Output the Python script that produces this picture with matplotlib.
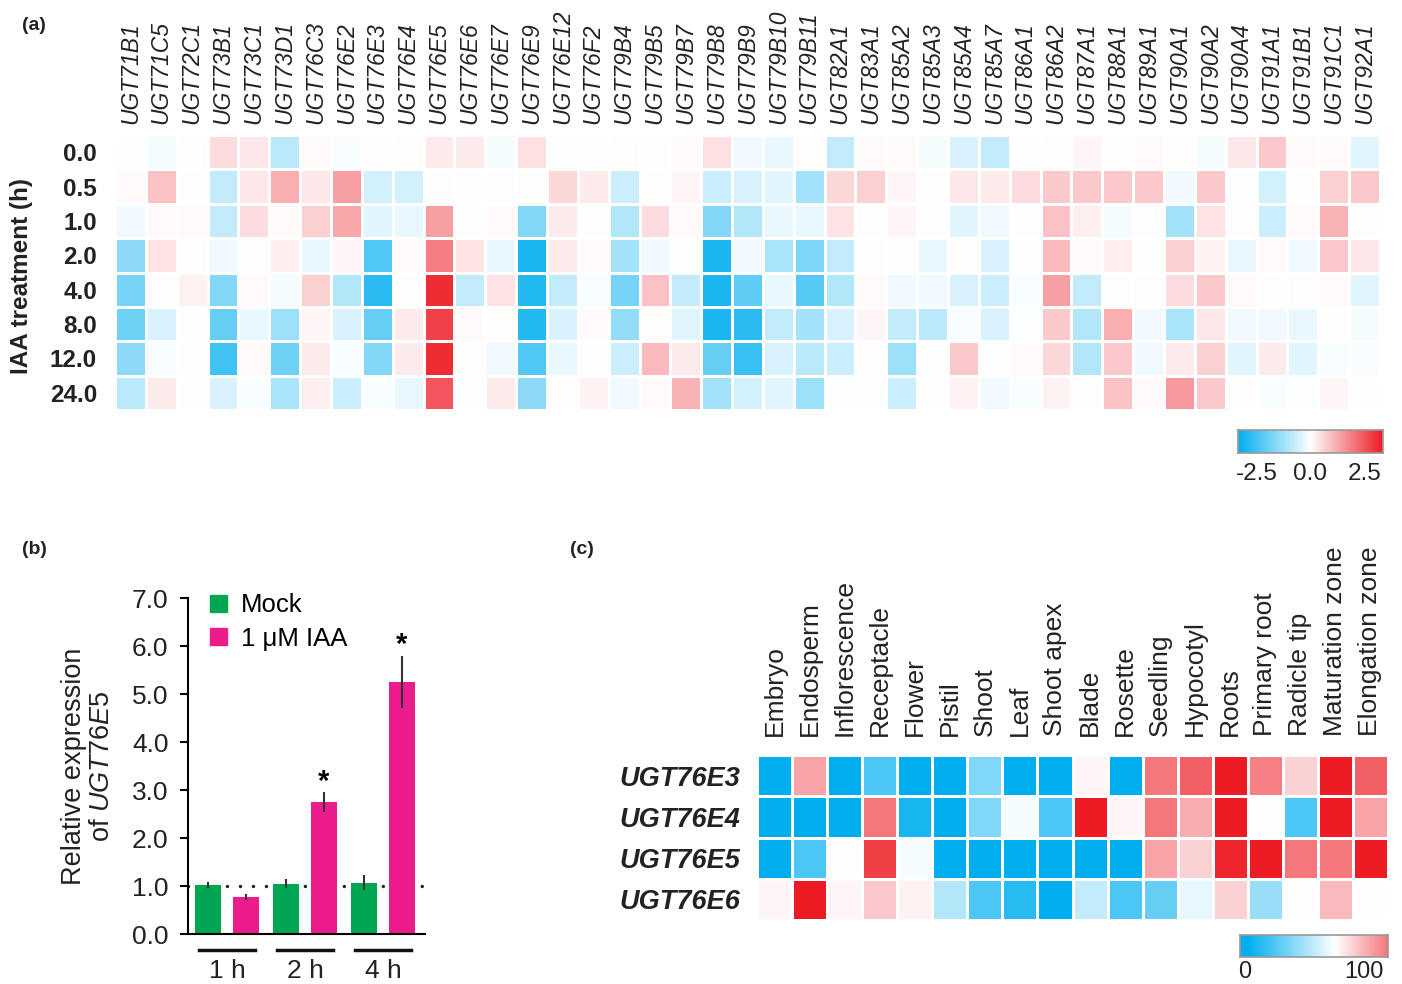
import numpy as np
import matplotlib.pyplot as plt
import matplotlib.transforms as mtransforms
from matplotlib.colors import LinearSegmentedColormap
from matplotlib.patches import Patch

plt.rcParams['font.family'] = ['Liberation Sans', 'DejaVu Sans']
plt.rcParams['mathtext.fontset'] = 'custom'
plt.rcParams['mathtext.rm'] = 'Liberation Sans'
plt.rcParams['mathtext.it'] = 'Liberation Sans:italic'

# ---- panel (a) data: log2 fold change, one list per gene (values for each time point)
times_a = ["0.0", "0.5", "1.0", "2.0", "4.0", "8.0", "12.0", "24.0"]
genes_a = ["UGT71B1", "UGT71C5", "UGT72C1", "UGT73B1", "UGT73C1", "UGT73D1", "UGT76C3",
           "UGT76E2", "UGT76E3", "UGT76E4", "UGT76E5", "UGT76E6", "UGT76E7", "UGT76E9",
           "UGT76E12", "UGT76F2", "UGT79B4", "UGT79B5", "UGT79B7", "UGT79B8", "UGT79B9",
           "UGT79B10", "UGT79B11", "UGT82A1", "UGT83A1", "UGT85A2", "UGT85A3", "UGT85A4",
           "UGT85A7", "UGT86A1", "UGT86A2", "UGT87A1", "UGT88A1", "UGT89A1", "UGT90A1",
           "UGT90A2", "UGT90A4", "UGT91A1", "UGT91B1", "UGT91C1", "UGT92A1"]
expr_a_by_gene = [
    [0.0, 0.1, -0.2, -1.5, -1.8, -1.9, -1.5, -0.9],    # UGT71B1
    [-0.15, 0.9, 0.1, 0.4, 0.0, -0.5, -0.1, 0.3],      # UGT71C5
    [0.05, 0.0, 0.1, 0.05, 0.2, 0.0, 0.0, 0.0],        # UGT72C1
    [0.5, -0.8, -0.8, -0.2, -1.6, -2.0, -2.5, -0.5],   # UGT73B1
    [0.35, 0.35, 0.5, 0.0, 0.1, -0.3, 0.1, -0.1],      # UGT73C1
    [-0.9, 1.2, 0.1, 0.25, -0.15, -1.3, -1.9, -1.1],   # UGT73D1
    [0.1, 0.35, 0.7, -0.3, 0.7, 0.15, 0.3, 0.25],      # UGT76C3
    [-0.1, 1.4, 1.3, 0.15, -1.0, -0.5, -0.1, -0.7],    # UGT76E2
    [0.0, -0.6, -0.4, -2.3, -2.8, -2.0, -1.6, -0.1],   # UGT76E3
    [0.05, -0.6, -0.3, 0.1, 0.05, 0.3, 0.3, -0.3],     # UGT76E4
    [0.3, 0.0, 1.4, 1.9, 3.1, 2.8, 3.1, 2.5],          # UGT76E5
    [0.3, 0.0, 0.0, 0.4, -0.8, 0.1, 0.05, 0.0],        # UGT76E6
    [-0.15, -0.05, 0.1, -0.3, 0.4, 0.05, -0.2, 0.3],   # UGT76E7
    [0.45, 0.05, -1.6, -3.0, -2.9, -2.9, -2.3, -1.5],  # UGT76E9
    [-0.05, 0.6, 0.3, 0.3, -0.8, -0.5, -0.3, 0.05],    # UGT76E12
    [0.0, 0.3, -0.05, 0.1, -0.1, 0.1, 0.0, 0.2],       # UGT76F2
    [0.05, -0.7, -1.0, -1.2, -1.8, -1.4, -0.7, -0.2],  # UGT79B4
    [0.0, 0.05, 0.5, -0.2, 0.9, 0.05, 1.0, 0.1],       # UGT79B5
    [0.1, 0.15, 0.1, 0.0, -0.8, -0.4, 0.3, 1.1],       # UGT79B7
    [0.45, -0.7, -1.6, -3.0, -3.0, -3.0, -2.0, -1.2],  # UGT79B8
    [-0.2, -0.5, -1.0, -0.2, -2.1, -2.8, -2.6, -0.6],  # UGT79B9
    [-0.3, -0.4, -0.3, -1.1, -0.3, -0.8, -0.5, -0.4],  # UGT79B10
    [0.05, -1.2, -0.3, -1.7, -2.2, -1.2, -0.9, -1.3],  # UGT79B11
    [-0.8, 0.6, 0.4, -0.8, -1.0, -0.5, -0.7, -0.05],   # UGT82A1
    [0.1, 0.7, 0.05, 0.0, 0.1, 0.15, 0.05, -0.05],     # UGT83A1
    [0.1, 0.15, 0.15, 0.05, -0.2, -0.8, -1.3, -0.7],   # UGT85A2
    [-0.15, 0.0, 0.0, -0.3, -0.2, -0.9, 0.0, 0.0],     # UGT85A3
    [-0.5, 0.35, -0.4, 0.05, -0.5, -0.1, 0.8, 0.2],    # UGT85A4
    [-0.8, 0.3, -0.2, -0.5, -0.7, -0.5, -0.05, -0.2],  # UGT85A7
    [0.0, 0.5, 0.0, 0.0, -0.1, -0.05, 0.1, -0.1],      # UGT86A1
    [0.05, 0.8, 0.9, 1.0, 1.4, 0.8, 0.6, 0.2],         # UGT86A2
    [0.15, 0.8, 0.25, 0.1, -0.8, -1.0, -1.0, 0.0],     # UGT87A1
    [0.05, 0.8, -0.15, 0.25, 0.0, 1.2, 0.8, 0.9],      # UGT88A1
    [0.1, 0.8, 0.0, 0.0, 0.05, -0.2, -0.2, 0.1],       # UGT89A1
    [0.05, -0.2, -1.2, 0.7, 0.5, -1.1, 0.3, 1.5],      # UGT90A1
    [-0.15, 0.8, 0.4, 0.2, 0.8, 0.35, 0.7, 0.8],       # UGT90A2
    [0.35, -0.05, 0.0, -0.3, 0.1, -0.2, -0.4, 0.05],   # UGT90A4
    [0.8, -0.6, -0.7, 0.1, 0.0, -0.2, 0.3, -0.1],      # UGT91A1
    [0.1, 0.0, 0.1, -0.2, 0.05, -0.3, -0.4, -0.05],    # UGT91B1
    [0.1, 0.7, 1.1, 0.8, 0.1, 0.0, -0.1, 0.15],        # UGT91C1
    [-0.4, 0.8, 0.0, 0.35, -0.4, -0.15, -0.1, 0.0],    # UGT92A1
]

# ---- panel (b) data
time_labels_b = ["1 h", "2 h", "4 h"]
mock_mean = [1.02, 1.05, 1.07]
mock_err = [0.06, 0.10, 0.15]
iaa_mean = [0.77, 2.75, 5.25]
iaa_err = [0.06, 0.20, 0.55]
iaa_sig = [False, True, True]

# ---- panel (c) data: relative expression (0-100)
tissues_c = ["Embryo", "Endosperm", "Inflorescence", "Receptacle", "Flower", "Pistil", "Shoot",
             "Leaf", "Shoot apex", "Blade", "Rosette", "Seedling", "Hypocotyl", "Roots",
             "Primary root", "Radicle tip", "Maturation zone", "Elongation zone"]
genes_c = ["UGT76E3", "UGT76E4", "UGT76E5", "UGT76E6"]
expr_c = [
    [0, 70, 0, 15, 0, 0, 25, 0, 0, 52, 0, 80, 85, 100, 78, 60, 100, 85],
    [0, 0, 0, 80, 5, 0, 25, 48, 15, 100, 52, 80, 68, 100, 50, 15, 100, 70],
    [0, 15, 50, 92, 48, 0, 0, 0, 0, 0, 0, 70, 60, 98, 100, 80, 80, 100],
    [52, 100, 52, 62, 53, 35, 15, 8, 0, 38, 15, 20, 45, 60, 30, 50, 65, 50],
]

blue, red = "#00AEEF", "#ED1C24"
cmap = LinearSegmentedColormap.from_list("bwr_ugt", [blue, "#FFFFFF", red])
txt = "#222222"

fig = plt.figure(figsize=(14.02, 9.84), dpi=100)
W, H = 1402, 984


def px_axes(x0, y0, x1, y1):
    # axes placed by pixel box (top-left origin)
    return fig.add_axes([x0 / W, 1 - y1 / H, (x1 - x0) / W, (y1 - y0) / H])


# ================= panel (a)
data_a = np.array(expr_a_by_gene).T
lim_a = 3.35
ax = px_axes(115, 135, 1380, 410)
ax.pcolormesh(data_a, cmap=cmap, vmin=-lim_a, vmax=lim_a, edgecolors="white", linewidth=0.8)
ax.set_ylim(len(times_a), 0)
ax.set_xlim(0, len(genes_a))
ax.xaxis.tick_top()
ax.set_xticks(np.arange(len(genes_a)) + 0.5)
ax.set_xticklabels(genes_a, rotation=90, fontsize=16.5, fontstyle="italic", color=txt)
ax.set_yticks(np.arange(len(times_a)) + 0.5)
ax.set_yticklabels(times_a, fontsize=17.5, fontweight="bold", color=txt)
ax.tick_params(axis="x", length=0, pad=8)
ax.tick_params(axis="y", length=0, pad=13)
for s in ax.spines.values():
    s.set_visible(False)
fig.text(22 / W, 1 - 276 / H, "IAA treatment (h)", rotation=90, ha="center", va="center",
         fontsize=17.5, fontweight="bold", color=txt)

cax = px_axes(1238, 430, 1383, 453)
grad = np.linspace(-lim_a, lim_a, 256)[None, :]
cax.imshow(grad, aspect="auto", cmap=cmap, vmin=-lim_a, vmax=lim_a, extent=(-lim_a, lim_a, 0, 1))
cax.set_yticks([])
cax.set_xticks([-2.5, 0, 2.5])
cax.set_xticklabels(["-2.5", "0.0", "2.5"], fontsize=17.5, color=txt)
cax.tick_params(length=0, pad=7)
for s in cax.spines.values():
    s.set_color("#999999")
    s.set_linewidth(1.2)

# ================= panel (b)
axb = px_axes(188, 598, 425, 934)
x = np.arange(len(time_labels_b))
off, bw = 0.245, 0.33
# dotted reference line at 1.0 (dots every ~13 px)
axb.axhline(1.0, color=txt, lw=2.5, ls=(0, (0.01, 3.73)), dash_capstyle="round", zorder=1)
axb.bar(x - off, mock_mean, bw, color="#00A651", zorder=2)
axb.bar(x + off, iaa_mean, bw, color="#EC1C8C", zorder=2)
axb.errorbar(x - off, mock_mean, yerr=mock_err, fmt="none", ecolor="#333333", elinewidth=1.5, zorder=3)
axb.errorbar(x + off, iaa_mean, yerr=iaa_err, fmt="none", ecolor="#333333", elinewidth=1.5, zorder=3)
for xi, m, e, s in zip(x, iaa_mean, iaa_err, iaa_sig):
    if s:
        axb.text(xi + off, m + e - 0.07, "*", ha="center", va="bottom", fontsize=21, fontweight="bold")
axb.set_xlim(-0.5, 2.54)
axb.set_ylim(0, 7)
yt = np.arange(0, 7.1, 1.0)
axb.set_yticks(yt)
axb.set_yticklabels([f"{v:.1f}" for v in yt], fontsize=19, color=txt)
axb.set_xticks([])
axb.tick_params(axis="y", length=6, width=1.5, pad=8)
axb.spines["top"].set_visible(False)
axb.spines["right"].set_visible(False)
axb.spines["left"].set_linewidth(1.5)
axb.spines["bottom"].set_linewidth(1.5)
axb.set_ylabel("Relative expression\nof $\\it{UGT76E5}$", fontsize=19.5, color=txt, labelpad=12,
               linespacing=1.1)
trans = mtransforms.blended_transform_factory(axb.transData, axb.transAxes)
for xi, lab in zip(x, time_labels_b):
    axb.plot([xi - 0.36, xi + 0.36], [-0.048, -0.048], color="#111111", lw=2.5,
             transform=trans, clip_on=False)
    axb.text(xi, -0.11, lab, transform=trans, ha="center", va="center", fontsize=19, color=txt)
axb.legend(handles=[Patch(color="#00A651", label="Mock"), Patch(color="#EC1C8C", label="1 \u03bcM IAA")],
           loc="upper left", bbox_to_anchor=(0.05, 1.045), frameon=False, fontsize=18.5,
           handlelength=0.65, handleheight=0.65, handletextpad=0.55, labelspacing=0.38, borderaxespad=0)

# ================= panel (c)
axc = px_axes(757, 755, 1388, 920)
axc.pcolormesh(np.array(expr_c), cmap=cmap, vmin=0, vmax=100, edgecolors="white", linewidth=0.8)
axc.set_ylim(len(genes_c), 0)
axc.set_xlim(0, len(tissues_c))
axc.xaxis.tick_top()
axc.set_xticks(np.arange(len(tissues_c)) + 0.5)
axc.set_xticklabels(tissues_c, rotation=90, fontsize=19, color=txt)
axc.set_yticks(np.arange(len(genes_c)) + 0.5)
axc.set_yticklabels(genes_c, fontsize=19.5, fontweight="bold", fontstyle="italic", color=txt)
axc.tick_params(axis="x", length=0, pad=14)
axc.tick_params(axis="y", length=0, pad=12)
for s in axc.spines.values():
    s.set_visible(False)

caxc = px_axes(1240, 935, 1388, 957)
lo, hi = -4, 120
gradc = np.linspace(lo, 80, 256)[None, :]
caxc.imshow(gradc, aspect="auto", cmap=cmap, vmin=0, vmax=100, extent=(lo, hi, 0, 1))
caxc.set_xlim(lo, hi)
caxc.set_yticks([])
caxc.set_xticks([0, 100])
caxc.set_xticklabels(["0", "100"], fontsize=17, color=txt)
caxc.tick_params(length=0, pad=3)
for s in caxc.spines.values():
    s.set_color("#999999")
    s.set_linewidth(1.2)

# panel letters
fig.text(22 / W, 1 - 25 / H, "(a)", fontsize=14, fontweight="bold", va="center", color=txt)
fig.text(22 / W, 1 - 549 / H, "(b)", fontsize=14, fontweight="bold", va="center", color=txt)
fig.text(570 / W, 1 - 549 / H, "(c)", fontsize=14, fontweight="bold", va="center", color=txt)

fig.savefig("out.png", dpi=100)
